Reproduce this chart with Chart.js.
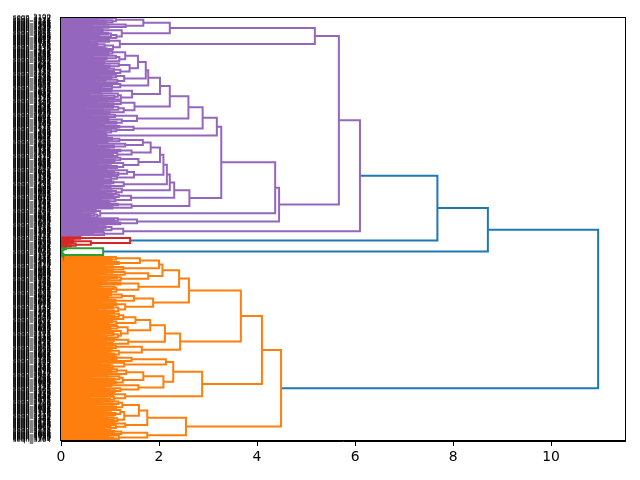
<!DOCTYPE html>
<html><head><meta charset="utf-8">
<script src="https://cdn.jsdelivr.net/npm/chart.js@4.4.1/dist/chart.umd.min.js"></script>
<style>html,body{margin:0;padding:0;background:#fff}#wrap{width:640px;height:480px;position:relative}</style>
</head><body><div id="wrap"><canvas id="c"></canvas></div>
<script>
// ---- DATA: merge heights between consecutive leaves (top to bottom) ----
const purpleUpperGaps = [0.88,1.12,0.74,1.05,0.92,1.68,0.63,1.32,0.97,0.81, 2.22,
  0.85,0.71,1.24,0.96,0.63,1.02,0.78,1.13, 5.18,
  0.55,0.98,0.72,1.20,0.74,0.36,0.89,1.06,0.81,0.93];
const purpleLadderGaps = [1.05,0.82,0.97,1.31,0.66,1.12,0.93,0.78,1.19,0.88, 1.57,
  0.87,1.18,0.64,0.99,1.40,0.95,1.08,0.72,1.21,0.90, 1.73,
  1.12,0.78,1.03,1.29,0.91,0.69,1.15, 1.78,
  0.69,1.21,0.88,1.04,0.83, 2.02,
  1.03,0.81,1.45,0.57,1.16,0.84,1.09,0.93,1.22, 2.22,
  0.94,1.22,0.71,1.07,1.50,1.06,0.48,1.17,0.86,1.28,0.99,0.75, 2.60,
  1.10,0.62,0.94,1.55,0.97,1.24,0.81,1.13,0.88, 2.89,
  0.88,1.19,1.48,1.13,0.76,1.02,0.91, 3.18,
  0.64,0.93];
const purpleLowerGaps = [0.81,1.04,1.19,0.95,0.72, 1.67,
  1.31,0.72,1.08,0.89, 1.83,
  0.98,1.21,1.44,0.67,1.15,0.93,1.06, 2.02,
  1.21,0.85,1.09,1.58,1.02,0.73,1.27,0.96,1.14,0.88, 2.09,
  0.92,1.35,1.08,0.61,1.17,1.49,1.14,0.87,1.02,0.79, 2.16,
  1.07,0.84,1.28,0.86,1.01, 2.22,
  0.79,1.24,1.03,0.91,1.12, 2.31,
  1.18,0.90,1.06,1.43,1.11,0.82,0.97, 2.62,
  0.99,1.16,1.44,0.83,1.05, 4.37,
  0.52,0.71,0.80,0.41,0.68,0.59,0.74, 4.45,
  1.16,0.93,1.08,1.55,1.21,0.87, 6.10,
  0.74,0.91,1.03,0.58,0.86,1.27,0.65,0.88,0.42];
const purpleJoins = [5.67, 3.27];
const redGaps = [0.22,0.39, 1.41, 0.18,0.25, 0.61, 0.12,0.30,0.20];
const greenGaps = [0.10,0.05,0.03, 0.86, 0.02,0.03,0.04,0.05];
const orangeUpperGaps = [1.12,0.84,1.03,1.61,0.97,1.18,0.79, 2.00,
  0.88,1.06,1.27,0.93, 2.07,
  1.05,0.91,1.30,0.76,1.78,1.14,0.98,1.22,0.85, 2.41,
  0.93,1.21,0.81,1.58,0.67,1.09,0.85,1.13,0.96,1.02, 2.61,
  1.02,0.79,1.24,0.96,1.49,0.94,1.11,0.83,1.88,1.13,0.58,1.31,1.06,0.92,1.17,0.74,1.08, 3.67,
  0.96,1.18,0.71,1.09,1.27,0.88,1.52,1.04,0.86,1.13,0.97,1.82,1.15,0.63,1.01,1.36,0.99,1.22,0.88,1.07,0.79,1.16,0.93, 2.12,
  1.08,0.92,1.37,0.74,1.05, 2.43,
  1.12,0.89,1.04,1.65,1.01,0.66,1.18,0.95,1.09];
const orangeJoin = 4.10;
const orangeLowerGaps = [0.97,1.13,1.44,0.86,1.13, 2.14,
  1.29,0.81,0.99,1.05,0.87, 2.29,
  1.14,0.72,1.02,1.33,0.91,1.68,0.95,1.19,0.61,1.08,1.26,0.89,1.12, 2.09,
  1.03,0.87,1.58,0.87,1.21,0.98,1.10, 2.88,
  0.92,1.06,1.31,0.57,1.08,0.89,1.00, 4.49,
  1.17,0.83,1.05,1.25,0.69,1.12,1.59,1.02,0.91,1.21,0.88,1.11,0.94,1.29,0.81,1.07,0.96,1.15, 1.76,
  0.94,1.09,1.31,1.12,0.79,1.01,0.88, 2.55,
  1.08,0.92,1.23,1.76,0.96,1.18,0.84,1.06,1.13];
const clusterJoins = [7.68, 8.71, 10.96];
const clusterColors = ['#ff7f0e', '#2ca02c', '#d62728', '#9467bd'];
const aboveColor = '#1f77b4';
const xTickValues = [0, 2, 4, 6, 8, 10];
const leafLabelPrefix = 'seqn_';

// ---- build dendrogram from the gap sequence ----
const allGaps = [].concat(purpleUpperGaps, [purpleJoins[0]], purpleLadderGaps, [purpleJoins[1]], purpleLowerGaps,
  [clusterJoins[0]], redGaps, [clusterJoins[1]], greenGaps, [clusterJoins[2]], orangeUpperGaps, [orangeJoin], orangeLowerGaps);
const n = allGaps.length + 1;
const leafLabels = [];
for (let i = 0; i < n; i++) leafLabels.push(leafLabelPrefix + (3100 + ((i * 37) % 900)));

function build(lo, hi) {
  if (lo === hi) return { leaf: true, h: 0, y: (n - lo) * 10 - 5, idx: lo };
  let k = lo;
  for (let i = lo; i < hi; i++) if (allGaps[i] > allGaps[k]) k = i;
  const l = build(lo, k), r = build(k + 1, hi);
  return { leaf: false, h: allGaps[k], l, r, y: (l.y + r.y) / 2 };
}
const root = build(0, n - 1);
const maxH = Math.max(...allGaps);
const thr = 0.7 * maxH;
const clusters = [];
(function find(nd) { if (nd.h < thr) { clusters.push(nd); return; } find(nd.l); find(nd.r); })(root);
clusters.reverse();
let ci = 0;
clusters.forEach(c => { if (!c.leaf) c.color = clusterColors[ci++ % clusterColors.length]; });
const lowLinks = [], highLinks = [];
(function collect(nd, col) {
  if (nd.leaf) return;
  let c = nd.h >= thr ? aboveColor : (nd.color || col);
  const pts = [{ x: nd.l.h, y: nd.l.y }, { x: nd.h, y: nd.l.y }, { x: nd.h, y: nd.r.y }, { x: nd.r.h, y: nd.r.y }];
  (nd.h >= thr ? highLinks : lowLinks).push({ pts, c });
  const childCol = nd.h >= thr ? null : c;
  collect(nd.l, childCol); collect(nd.r, childCol);
})(root, null);
const datasets = lowLinks.concat(highLinks).map(L => ({
  data: L.pts, showLine: true, borderColor: L.c, borderWidth: 2, pointRadius: 0,
  pointHoverRadius: 0, fill: false, tension: 0, borderCapStyle: 'butt', borderJoinStyle: 'miter'
}));
const leafYsAsc = [];
for (let i = n - 1; i >= 0; i--) leafYsAsc.push((n - i) * 10 - 5);
const labelsAsc = leafLabels.slice().reverse();

const framePlugin = {
  id: 'frame',
  afterDatasetsDraw(chart) {
    const a = chart.chartArea, ctx = chart.ctx;
    ctx.save(); ctx.strokeStyle = '#000'; ctx.lineWidth = 1;
    ctx.strokeRect(Math.round(a.left) - 0.5, Math.round(a.top) + 0.5, Math.round(a.right - a.left) + 1, Math.round(a.bottom - a.top) - 1);
    ctx.restore();
  }
};

new Chart(document.getElementById('c'), {
  type: 'scatter',
  data: { datasets },
  options: {
    responsive: true, maintainAspectRatio: false, animation: false,
    layout: { padding: { top: 17, right: 15, left: 0, bottom: 0 } },
    plugins: { legend: { display: false }, tooltip: { enabled: false } },
    events: [],
    scales: {
      x: {
        type: 'linear', min: 0, max: maxH * 1.05,
        afterBuildTicks: ax => { ax.ticks = xTickValues.map(v => ({ value: v })); },
        afterFit: s => { s.height = 39; },
        grid: { drawOnChartArea: false, drawTicks: true, tickLength: 5, tickColor: '#000', tickWidth: 1 },
        border: { display: true, color: '#000', width: 1 },
        ticks: { color: '#000', font: { family: 'DejaVu Sans', size: 13.9 }, padding: 3, maxRotation: 0, autoSkip: false }
      },
      y: {
        type: 'linear', min: 0, max: n * 10,
        afterBuildTicks: ax => { ax.ticks = leafYsAsc.map(v => ({ value: v })); },
        afterFit: s => { s.width = 61; },
        grid: { drawOnChartArea: false, drawTicks: false },
        border: { display: true, color: '#000', width: 1 },
        ticks: {
          autoSkip: false, color: '#000', padding: 10,
          font: { family: 'DejaVu Sans', size: 7 },
          callback: (v, i) => labelsAsc[i]
        }
      }
    }
  },
  plugins: [framePlugin]
});
</script></body></html>
